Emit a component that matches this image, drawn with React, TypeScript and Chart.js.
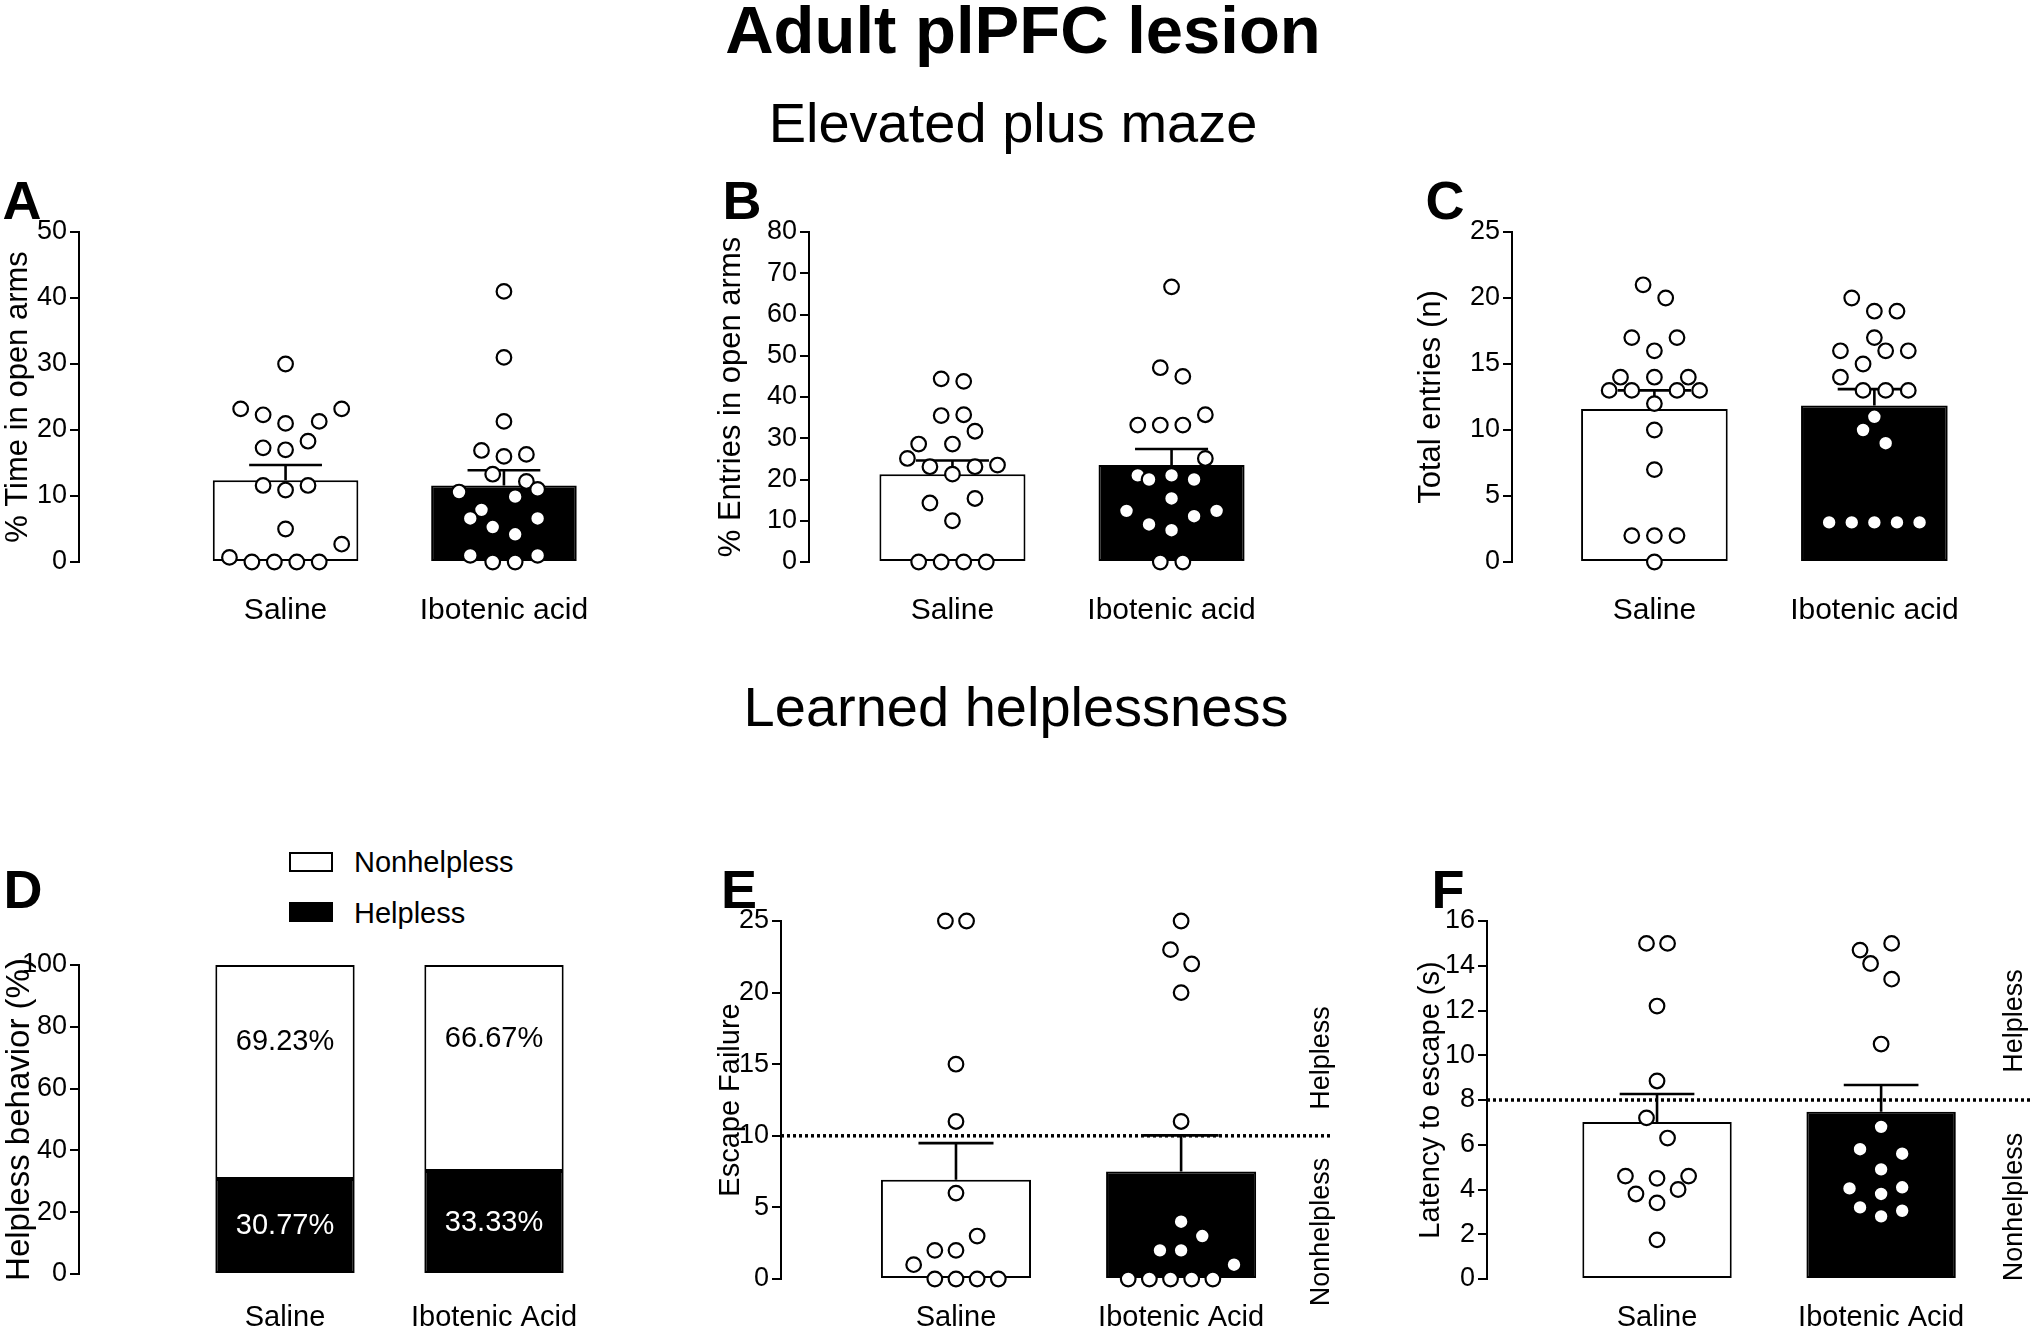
import React, { useEffect, useRef } from 'react';
import { Chart, registerables } from 'chart.js';
Chart.register(...registerables);

const FONT = "'Liberation Sans', Arial, Helvetica, sans-serif";
Chart.defaults.font.family = FONT;
Chart.defaults.color = '#000';

// ---------- DATA ----------
const groupsTop = ['Saline', 'Ibotenic acid'];
const groupsBottom = ['Saline', 'Ibotenic Acid'];

// A: % Time in open arms
const meanA = [12.4, 11.6];
const semA = [2.3, 2.3];
const salineA = [30, 23.2, 22.3, 21.0, 21.3, 23.2, 17.3, 17.0, 18.3, 11.6, 10.9, 11.6, 5.0, 2.7, 0.7, 0, 0, 0, 0];
const salineASlot = [0, -4, -2, 0, 3, 5, -2, 0, 2, -2, 0, 2, 0, 5, -5, -3, -1, 1, 3];
const iboA = [41, 31, 21.3, 16.9, 16.0, 16.3, 13.3, 12.2, 10.6, 9.9, 11.0, 7.9, 6.6, 6.6, 5.3, 4.2, 1.0, 0, 0, 1.0];
const iboASlot = [0, 0, 0, -2, 0, 2, -1, 2, -4, 1, 3, -2, -3, 3, -1, 1, -3, -1, 1, 3];

// B: % Entries in open arms
const meanB = [21.3, 23.5];
const semB = [3.3, 3.9];
const salineB = [44.4, 43.8, 35.5, 35.7, 31.7, 28.6, 28.6, 25.1, 23.1, 23.1, 23.5, 21.3, 14.3, 15.4, 10.0, 0, 0, 0, 0];
const salineBSlot = [-1, 1, -1, 1, 2, -3, 0, -4, -2, 2, 4, 0, -2, 2, 0, -3, -1, 1, 3];
const iboB = [66.7, 47.1, 45.0, 33.2, 33.2, 33.2, 35.7, 25.1, 21.0, 20.0, 21.0, 20.0, 15.4, 12.4, 12.4, 11.1, 9.1, 7.7, 0, 0];
const iboBSlot = [0, -1, 1, -3, -1, 1, 3, 3, -3, -2, 0, 2, 0, -4, 4, 2, -2, 0, -1, 1];

// C: Total entries (n)
const meanC = [11.6, 11.85];
const semC = [1.4, 1.25];
const salineC = [21, 20, 17, 17, 16, 14, 14, 14, 13, 13, 13, 13, 12, 10, 7, 2, 2, 2, 0];
const salineCSlot = [-1, 1, -2, 2, 0, -3, 0, 3, -4, -2, 2, 4, 0, 0, 0, -2, 0, 2, 0];
const iboC = [20, 19, 19, 17, 16, 16, 16, 15, 14, 13, 13, 13, 11, 10, 9, 3, 3, 3, 3, 3];
const iboCSlot = [-2, 0, 2, 0, -3, 1, 3, -1, -3, -1, 1, 3, 0, -1, 1, -4, -2, 0, 2, 4];

// D: Helpless behavior (%)
const helplessD = [30.77, 33.33];
const nonhelplessD = [69.23, 66.67];

// E: Escape failure
const thresholdE = 10;
const meanE = [6.93, 7.5];
const semE = [2.56, 2.53];
const salineE = [25, 25, 15, 11, 6, 3, 2, 2, 1, 0, 0, 0, 0];
const salineESlot = [-1, 1, 0, 0, 0, 2, -2, 0, -4, -2, 0, 2, 4];
const iboE = [25, 23, 22, 20, 11, 4, 3, 2, 2, 1, 0, 0, 0, 0, 0];
const iboESlot = [0, -1, 1, 0, 0, 0, 2, -2, 0, 5, -5, -3, -1, 1, 3];

// F: Latency to escape (s)
const thresholdF = 8;
const meanF = [7.02, 7.47];
const semF = [1.25, 1.2];
const salineF = [15, 15, 12.2, 8.85, 7.2, 6.3, 4.6, 4.5, 4.6, 3.8, 4.0, 3.4, 1.75];
const salineFSlot = [-1, 1, 0, 0, -1, 1, -3, 0, 3, -2, 2, 0, 0];
const iboF = [15, 14.7, 14.1, 13.4, 10.5, 6.8, 5.8, 5.6, 4.9, 4.05, 4.1, 3.8, 3.2, 3.05, 2.8];
const iboFSlot = [1, -2, -1, 1, 0, 0, -2, 2, 0, -3, 2, 0, -2, 2, 0];

// ---------- LAYOUT ----------
type Geo = {
  left: number; top: number; width: number; height: number;
  axisX: number; plotTop: number; plotBottom: number; c0: number; c1: number; labelY: number;
};
const geoA: Geo = { left: 0, top: 170, width: 660, height: 470, axisX: 79, plotTop: 232, plotBottom: 562, c0: 289, c1: 511, labelY: 611 };
const geoB: Geo = { left: 713, top: 170, width: 640, height: 470, axisX: 809, plotTop: 232, plotBottom: 562, c0: 955, c1: 1178, labelY: 611 };
const geoC: Geo = { left: 1413, top: 170, width: 627, height: 470, axisX: 1512, plotTop: 232, plotBottom: 562, c0: 1657, c1: 1881, labelY: 611 };
const geoD: Geo = { left: 0, top: 930, width: 640, height: 401, axisX: 79, plotTop: 965, plotBottom: 1274, c0: 285, c1: 494, labelY: 1318 };
const geoE: Geo = { left: 714, top: 880, width: 628, height: 451, axisX: 781, plotTop: 921, plotBottom: 1279, c0: 959, c1: 1188, labelY: 1318 };
const geoF: Geo = { left: 1414, top: 880, width: 626, height: 451, axisX: 1487, plotTop: 921, plotBottom: 1279, c0: 1660, c1: 1888, labelY: 1318 };

const CAP = 1 / 6;
const STEP_TOP = 0.0514;
const STEP_BOTTOM = 0.047;
const DOT_R = 7.3;

function xRange(g: Geo) {
  const ppu = g.c1 - g.c0;
  return { min: -(g.c0 - g.axisX) / ppu, max: (g.left + g.width - g.c0) / ppu };
}

function baseOptions(g: Geo, groups: string[], yMax: number, yStep: number, yTitle: string, yTitleSize: number, labelSize: number) {
  const { min, max } = xRange(g);
  const lh = labelSize * 1.2;
  return {
    responsive: false,
    maintainAspectRatio: false,
    animation: false,
    layout: { padding: { top: g.plotTop - g.top, left: 0, right: 0, bottom: 0 } },
    plugins: { legend: { display: false }, tooltip: { enabled: false } },
    scales: {
      x: {
        type: 'linear', min, max, offset: false,
        grid: { display: false, drawTicks: false },
        border: { display: false },
        afterBuildTicks: (s: any) => { s.ticks = groups.map((_, i) => ({ value: i })); },
        afterFit: (s: any) => { s.height = g.top + g.height - g.plotBottom; },
        ticks: {
          autoSkip: false, maxRotation: 0, minRotation: 0,
          padding: g.labelY - g.plotBottom - lh / 2,
          font: { size: labelSize, family: FONT }, color: '#000',
          callback: (v: any) => groups[v] ?? '',
        },
      },
      y: {
        type: 'linear', min: 0, max: yMax,
        ticks: { stepSize: yStep, font: { size: 27, family: FONT }, color: '#000', padding: 3 },
        grid: { drawOnChartArea: false, drawTicks: true, tickLength: 9, color: '#000', lineWidth: 2 },
        border: { display: true, color: '#000', width: 2 },
        title: { display: true, text: yTitle, font: { size: yTitleSize, family: FONT }, color: '#000', padding: 0 },
        afterFit: (s: any) => { s.width = g.axisX - g.left; },
      },
    },
  };
}

function errorData(means: number[], sems: number[]) {
  const pts: any[] = [];
  means.forEach((m, i) => {
    const t = m + sems[i];
    pts.push({ x: i, y: m }, { x: i, y: t }, { x: i, y: null }, { x: i - CAP, y: t }, { x: i + CAP, y: t }, { x: i, y: null });
  });
  return pts;
}

function dots(values: number[], slots: number[], group: number, step: number) {
  return values.map((v, i) => ({ x: group + slots[i] * step, y: v }));
}

function scatterSet(data: any[]) {
  return {
    type: 'scatter', data, order: 0, clip: false,
    pointRadius: DOT_R, pointHoverRadius: DOT_R, pointBorderWidth: 2.2,
    pointBackgroundColor: '#fff', pointBorderColor: '#000',
  };
}

function barConfig(g: Geo, groups: string[], means: number[], sems: number[],
  sal: number[], salSlot: number[], ibo: number[], iboSlot: number[],
  yMax: number, yStep: number, yTitle: string, yTitleSize: number, labelSize: number,
  step: number, threshold?: number) {
  const opts: any = baseOptions(g, groups, yMax, yStep, yTitle, yTitleSize, labelSize);
  const { min, max } = xRange(g);
  const datasets: any[] = [
    scatterSet(dots(sal, salSlot, 0, step)),
    scatterSet(dots(ibo, iboSlot, 1, step)),
    {
      type: 'line', data: errorData(means, sems), order: 1, clip: false,
      borderColor: '#000', borderWidth: 2.6, pointRadius: 0, spanGaps: false, fill: false,
    },
    {
      type: 'bar', data: means.map((m, i) => ({ x: i, y: m })), order: 3,
      backgroundColor: ['#fff', '#000'], borderColor: '#000', borderWidth: 2, borderSkipped: false,
      categoryPercentage: 2 / 3, barPercentage: 1,
    },
  ];
  if (threshold !== undefined) {
    datasets.push({
      type: 'line', data: [{ x: min, y: threshold }, { x: max, y: threshold }], order: 2, clip: false,
      borderColor: '#000', borderWidth: 3.5, borderDash: [3, 3], pointRadius: 0, fill: false,
    });
  }
  return { type: 'bar', data: { datasets }, options: opts };
}

const fmtPct = (v: number) => `${v.toFixed(2)}%`;

function configD() {
  const g = geoD;
  const opts: any = baseOptions(g, groupsBottom, 100, 20, 'Helpless behavior (%)', 33, 29);
  opts.scales.x.stacked = true;
  opts.scales.y.stacked = true;
  const pctPlugin = {
    id: 'pctLabels',
    afterDatasetsDraw(chart: any) {
      const { ctx } = chart;
      const x = chart.scales.x;
      const y = chart.scales.y;
      ctx.save();
      ctx.font = `29px ${FONT}`;
      ctx.textAlign = 'center';
      ctx.textBaseline = 'middle';
      groupsBottom.forEach((_, i) => {
        const cx = x.getPixelForValue(i);
        ctx.fillStyle = '#fff';
        ctx.fillText(fmtPct(helplessD[i]), cx, y.getPixelForValue(helplessD[i] / 2));
        const top = helplessD[i] + nonhelplessD[i];
        ctx.fillStyle = '#000';
        ctx.fillText(fmtPct(nonhelplessD[i]), cx, y.getPixelForValue(top - nonhelplessD[i] * 0.36));
      });
      ctx.restore();
    },
  };
  return {
    type: 'bar',
    data: {
      datasets: [
        {
          label: 'Helpless', data: helplessD.map((v, i) => ({ x: i, y: v })), stack: 's',
          backgroundColor: '#000', borderColor: '#000', borderWidth: 2, borderSkipped: false,
          categoryPercentage: 2 / 3, barPercentage: 1,
        },
        {
          label: 'Nonhelpless', data: nonhelplessD.map((v, i) => ({ x: i, y: v })), stack: 's',
          backgroundColor: '#fff', borderColor: '#000', borderWidth: 2, borderSkipped: false,
          categoryPercentage: 2 / 3, barPercentage: 1,
        },
      ],
    },
    options: opts,
    plugins: [pctPlugin],
  };
}

// ---------- COMPONENTS ----------
function ChartPanel({ geo, build }: { geo: Geo; build: () => any }) {
  const ref = useRef<HTMLCanvasElement | null>(null);
  useEffect(() => {
    if (!ref.current) return;
    const chart = new Chart(ref.current, build());
    return () => chart.destroy();
  }, []);
  return (
    <canvas
      ref={ref}
      width={geo.width}
      height={geo.height}
      style={{ position: 'absolute', left: geo.left, top: geo.top, width: geo.width, height: geo.height }}
    />
  );
}

function Text({ x, y, size, bold, children, rotate }: { x: number; y: number; size: number; bold?: boolean; children: React.ReactNode; rotate?: boolean }) {
  const style: React.CSSProperties = {
    position: 'absolute', left: x, top: y, fontSize: size, lineHeight: 1, fontWeight: bold ? 700 : 400,
    whiteSpace: 'nowrap', transform: rotate ? 'translate(-50%, -50%) rotate(-90deg)' : 'translate(-50%, -50%)',
    fontFamily: FONT, color: '#000',
  };
  return <div style={style}>{children}</div>;
}

export default function App() {
  return (
    <div style={{ position: 'absolute', left: 0, top: 0, width: 2040, height: 1331, background: '#fff', overflow: 'hidden', fontFamily: FONT }}>
      <ChartPanel geo={geoA} build={() => barConfig(geoA, groupsTop, meanA, semA, salineA, salineASlot, iboA, iboASlot, 50, 10, '% Time in open arms', 31, 30, STEP_TOP)} />
      <ChartPanel geo={geoB} build={() => barConfig(geoB, groupsTop, meanB, semB, salineB, salineBSlot, iboB, iboBSlot, 80, 10, '% Entries in open arms', 31, 30, STEP_TOP)} />
      <ChartPanel geo={geoC} build={() => barConfig(geoC, groupsTop, meanC, semC, salineC, salineCSlot, iboC, iboCSlot, 25, 5, 'Total entries (n)', 31, 30, STEP_TOP)} />
      <ChartPanel geo={geoD} build={configD} />
      <ChartPanel geo={geoE} build={() => barConfig(geoE, groupsBottom, meanE, semE, salineE, salineESlot, iboE, iboESlot, 25, 5, 'Escape Failure', 29, 29, STEP_BOTTOM, thresholdE)} />
      <ChartPanel geo={geoF} build={() => barConfig(geoF, groupsBottom, meanF, semF, salineF, salineFSlot, iboF, iboFSlot, 16, 2, 'Latency to escape (s)', 29, 29, STEP_BOTTOM, thresholdF)} />

      <Text x={1023} y={29} size={67} bold>Adult plPFC lesion</Text>
      <Text x={1013} y={123} size={56}>Elevated plus maze</Text>
      <Text x={1016} y={707} size={56}>Learned helplessness</Text>

      <Text x={22} y={200} size={54} bold>A</Text>
      <Text x={742} y={200} size={54} bold>B</Text>
      <Text x={1445} y={200} size={54} bold>C</Text>
      <Text x={23} y={889} size={54} bold>D</Text>
      <Text x={739} y={889} size={54} bold>E</Text>
      <Text x={1448} y={889} size={54} bold>F</Text>

      <div style={{ position: 'absolute', left: 289, top: 852, width: 44, height: 20, boxSizing: 'border-box', border: '2px solid #000', background: '#fff' }} />
      <div style={{ position: 'absolute', left: 289, top: 902, width: 44, height: 20, background: '#000' }} />
      <div style={{ position: 'absolute', left: 354, top: 862, transform: 'translateY(-50%)', fontSize: 29, lineHeight: 1, whiteSpace: 'nowrap', fontFamily: FONT }}>Nonhelpless</div>
      <div style={{ position: 'absolute', left: 354, top: 913, transform: 'translateY(-50%)', fontSize: 29, lineHeight: 1, whiteSpace: 'nowrap', fontFamily: FONT }}>Helpless</div>

      <Text x={1320} y={1058} size={27} rotate>Helpless</Text>
      <Text x={1320} y={1232} size={27} rotate>Nonhelpless</Text>
      <Text x={2013} y={1021} size={27} rotate>Helpless</Text>
      <Text x={2013} y={1207} size={27} rotate>Nonhelpless</Text>
    </div>
  );
}
